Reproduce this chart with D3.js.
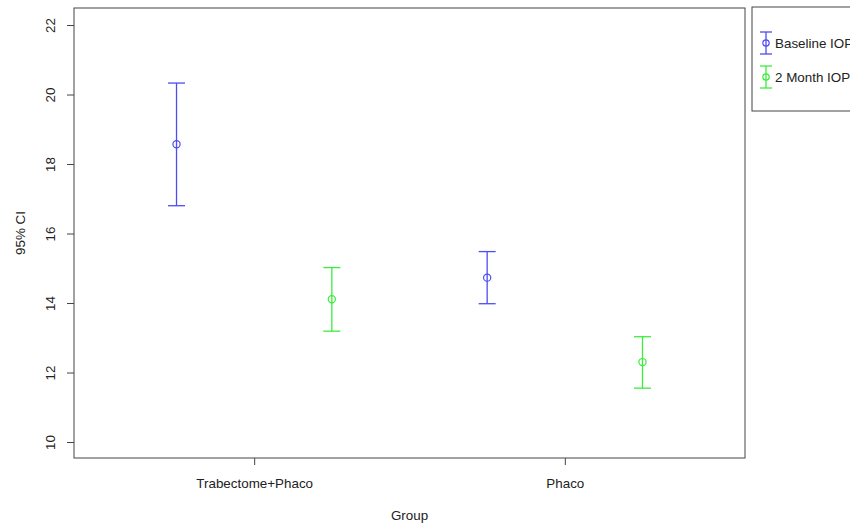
<!DOCTYPE html>
<html>
<head>
    <meta charset="utf-8">
    <title>95% CI by Group</title>
    <script src="https://d3js.org/d3.v7.min.js"></script>
</head>
<style>
    body { margin: 0; background: #fff; }
    text { font-family: "Liberation Sans", Arial, sans-serif; fill: #222; }
</style>
<body>
<svg id="chart"></svg>
<script>
    // data
    var groups = ["Trabectome+Phaco", "Phaco"];
    var seriesNames = ["Baseline IOP", "2 Month IOP"];
    var seriesColors = ["#4d4df2", "#3cec3c"];
    var baselineMean = [18.57, 14.73];
    var baselineLow = [16.80, 13.98];
    var baselineHigh = [20.33, 15.48];
    var monthMean = [14.11, 12.30];
    var monthLow = [13.19, 11.55];
    var monthHigh = [15.02, 13.03];
    var yTicks = [10, 12, 14, 16, 18, 20, 22];

    var width = 850, height = 523;
    var plotLeft = 74, plotRight = 745, plotTop = 8, plotBottom = 458;
    var fontSize = "13.4px";

    var svg = d3.select("#chart").attr("width", width).attr("height", height);

    // group positions 1 and 2, series offset +-0.25
    var x = d3.scaleLinear().domain([0.42, 2.58]).range([plotLeft, plotRight]);
    var y = d3.scaleLinear().domain([9.54, 22.49]).range([plotBottom, plotTop]);

    var points = [];
    groups.forEach(function (g, i) {
        points.push({ x: i + 1 - 0.25, mean: baselineMean[i], lo: baselineLow[i], hi: baselineHigh[i], color: seriesColors[0] });
        points.push({ x: i + 1 + 0.25, mean: monthMean[i], lo: monthLow[i], hi: monthHigh[i], color: seriesColors[1] });
    });

    // plot frame
    svg.append("rect")
        .attr("x", plotLeft).attr("y", plotTop)
        .attr("width", plotRight - plotLeft).attr("height", plotBottom - plotTop)
        .attr("fill", "none").attr("stroke", "#444").attr("stroke-width", 1);

    // y axis
    var yAxis = svg.append("g")
        .attr("transform", "translate(" + plotLeft + ",0)")
        .call(d3.axisLeft(y).tickValues(yTicks).tickSize(7).tickPadding(0).tickFormat(d3.format("d")));
    yAxis.select(".domain").attr("stroke", "none");
    yAxis.selectAll(".tick line").attr("stroke", "#444");
    yAxis.selectAll(".tick text")
        .attr("transform", "translate(-24,0) rotate(-90)")
        .attr("x", 0).attr("dy", "0.35em")
        .attr("text-anchor", "middle")
        .style("font-size", fontSize).attr("fill", "#222");

    // x axis
    var xAxis = svg.append("g")
        .attr("transform", "translate(0," + plotBottom + ")")
        .call(d3.axisBottom(x).tickValues([1, 2]).tickSize(7).tickPadding(13)
            .tickFormat(function (d) { return groups[d - 1]; }));
    xAxis.select(".domain").attr("stroke", "none");
    xAxis.selectAll(".tick line").attr("stroke", "#444");
    xAxis.selectAll(".tick text").style("font-size", fontSize).attr("fill", "#222");

    // axis titles
    svg.append("text")
        .attr("x", (plotLeft + plotRight) / 2).attr("y", 520)
        .attr("text-anchor", "middle").style("font-size", fontSize)
        .text("Group");
    svg.append("text")
        .attr("transform", "translate(25," + ((plotTop + plotBottom) / 2) + ") rotate(-90)")
        .attr("text-anchor", "middle").style("font-size", fontSize)
        .text("95% CI");

    // error bars
    var cap = 8.5;
    var bars = svg.append("g").selectAll("g").data(points).enter().append("g");
    bars.append("line")
        .attr("x1", function (d) { return x(d.x); }).attr("x2", function (d) { return x(d.x); })
        .attr("y1", function (d) { return y(d.lo); }).attr("y2", function (d) { return y(d.hi); })
        .attr("stroke", function (d) { return d.color; }).attr("stroke-width", 1.3);
    bars.append("line")
        .attr("x1", function (d) { return x(d.x) - cap; }).attr("x2", function (d) { return x(d.x) + cap; })
        .attr("y1", function (d) { return y(d.hi); }).attr("y2", function (d) { return y(d.hi); })
        .attr("stroke", function (d) { return d.color; }).attr("stroke-width", 1.3);
    bars.append("line")
        .attr("x1", function (d) { return x(d.x) - cap; }).attr("x2", function (d) { return x(d.x) + cap; })
        .attr("y1", function (d) { return y(d.lo); }).attr("y2", function (d) { return y(d.lo); })
        .attr("stroke", function (d) { return d.color; }).attr("stroke-width", 1.3);
    bars.append("circle")
        .attr("cx", function (d) { return x(d.x); }).attr("cy", function (d) { return y(d.mean); })
        .attr("r", 3.6).attr("fill", "none")
        .attr("stroke", function (d) { return d.color; }).attr("stroke-width", 1.2);

    // legend
    svg.append("rect")
        .attr("x", 752).attr("y", 7).attr("width", 110).attr("height", 104)
        .attr("fill", "none").attr("stroke", "#444").attr("stroke-width", 1);
    var leg = svg.append("g").selectAll("g").data(seriesNames).enter().append("g")
        .attr("transform", function (d, i) { return "translate(766," + (43 + i * 34) + ")"; });
    leg.append("line").attr("x1", 0).attr("x2", 0).attr("y1", -11).attr("y2", 11)
        .attr("stroke", function (d, i) { return seriesColors[i]; }).attr("stroke-width", 1.3);
    leg.append("line").attr("x1", -6).attr("x2", 6).attr("y1", -11).attr("y2", -11)
        .attr("stroke", function (d, i) { return seriesColors[i]; }).attr("stroke-width", 1.3);
    leg.append("line").attr("x1", -6).attr("x2", 6).attr("y1", 11).attr("y2", 11)
        .attr("stroke", function (d, i) { return seriesColors[i]; }).attr("stroke-width", 1.3);
    leg.append("circle").attr("r", 3.2).attr("fill", "none")
        .attr("stroke", function (d, i) { return seriesColors[i]; }).attr("stroke-width", 1.2);
    leg.append("text").attr("x", 9).attr("dy", "0.35em")
        .style("font-size", fontSize)
        .text(function (d) { return d; });
</script>
</body>
</html>
